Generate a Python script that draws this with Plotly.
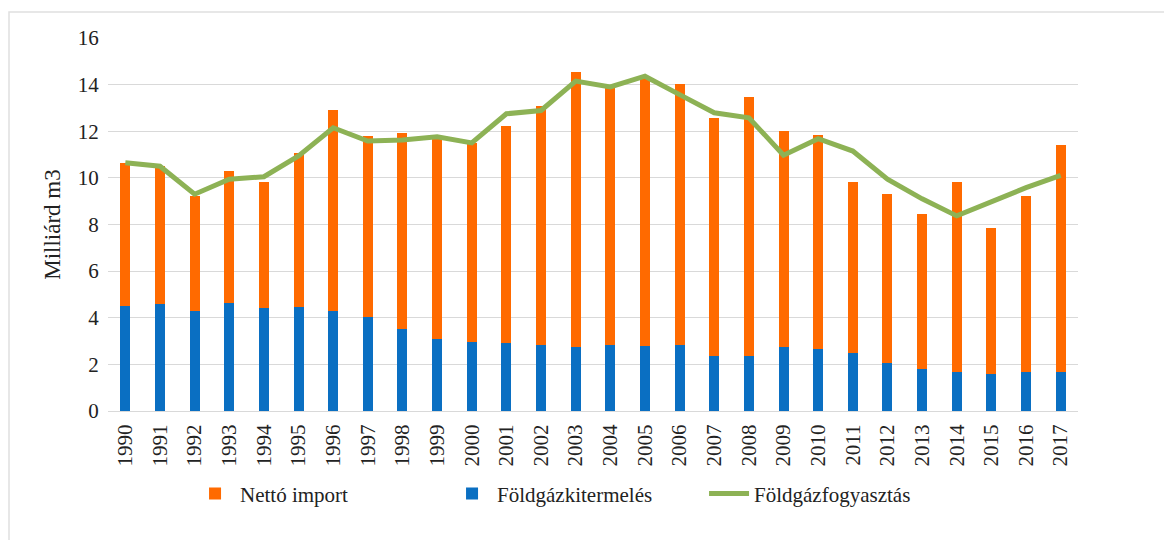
import plotly.graph_objects as go

years = [str(y) for y in range(1990, 2018)]
kitermeles = [4.52, 4.59, 4.28, 4.62, 4.41, 4.48, 4.28, 4.02, 3.52, 3.09, 2.95, 2.92, 2.81, 2.74,
              2.81, 2.77, 2.81, 2.38, 2.35, 2.74, 2.67, 2.49, 2.07, 1.81, 1.67, 1.60, 1.67, 1.67]
osszes = [10.65, 10.5, 9.22, 10.29, 9.82, 11.08, 12.93, 11.79, 11.94, 11.79, 11.5, 12.22, 13.1, 14.53,
          13.9, 14.36, 14.03, 12.58, 13.46, 12.03, 11.86, 9.82, 9.3, 8.44, 9.82, 7.83, 9.22, 11.43]
netto_import = [round(t - k, 2) for t, k in zip(osszes, kitermeles)]
fogyasztas = [10.65, 10.5, 9.3, 9.94, 10.05, 10.94, 12.15, 11.58, 11.62, 11.76, 11.5, 12.75, 12.89, 14.15,
              13.9, 14.36, 13.57, 12.79, 12.58, 10.97, 11.68, 11.15, 9.94, 9.1, 8.37, 9.0, 9.58, 10.11]

FONT = "Liberation Serif"

fig = go.Figure()
fig.add_trace(go.Bar(x=years, y=kitermeles, name="Földgázkitermelés",
                     marker=dict(color="#0A6FC2", line=dict(width=0)), legendrank=2))
fig.add_trace(go.Bar(x=years, y=netto_import, name="Nettó import",
                     marker=dict(color="#FF6A00", line=dict(width=0)), legendrank=1))
fig.add_trace(go.Scatter(x=years, y=fogyasztas, name="Földgázfogyasztás", mode="lines",
                         line=dict(color="#8DB255", width=5), legendrank=3))

fig.update_layout(
    width=1156, height=532,
    barmode="stack", bargap=0.71,
    paper_bgcolor="white", plot_bgcolor="white",
    margin=dict(l=100, r=86, t=30, b=129),
    font=dict(family=FONT, size=20, color="#222"),
    showlegend=True,
    legend=dict(orientation="h", x=0.482, xanchor="center", y=-0.222, yanchor="middle",
                font=dict(family=FONT, size=21, color="#222"), traceorder="normal",
                itemwidth=40, tracegroupgap=0, entrywidth=202, entrywidthmode="pixels"),
    xaxis=dict(type="category", tickangle=-90, tickfont=dict(family=FONT, size=21, color="#222"),
               showgrid=False, showline=True, linecolor="#D9D9D9", linewidth=1,
               ticks="outside", ticklen=4, tickcolor="rgba(0,0,0,0)"),
    yaxis=dict(range=[0, 16], dtick=2, tickfont=dict(family=FONT, size=21, color="#222"),
               showgrid=True, gridcolor="#D9D9D9", gridwidth=1, zeroline=False,
               title=dict(text="Milliárd m3", font=dict(family=FONT, size=23, color="#222"), standoff=10),
               ticks="outside", ticklen=4, tickcolor="rgba(0,0,0,0)"),
    shapes=[dict(type="rect", xref="paper", yref="paper",
                 x0=-99/970, x1=1.2, y0=-0.5, y1=1 + 26/373,
                 line=dict(color="#E0E0E0", width=1.5), fillcolor="rgba(0,0,0,0)", layer="below")],
)

fig.write_html("out.html")
